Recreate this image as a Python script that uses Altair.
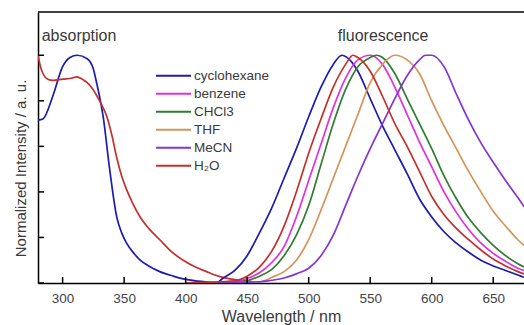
import altair as alt
import pandas as pd

solvents = ["cyclohexane", "benzene", "CHCl3", "THF", "MeCN", "H₂O"]
colors = ["#1c1cb0", "#e030e0", "#2f7d2f", "#d4945a", "#8434d4", "#c4302c"]

# absorption spectra (cyclohexane, H2O)
abs_cyc_wl = [280, 284, 292, 300, 306, 312, 320, 325, 328, 330, 333, 338, 344, 348, 352, 358, 363, 370, 379, 390, 398, 410, 420, 430]
abs_cyc_v = [0.715, 0.72, 0.82, 0.95, 0.99, 1.0, 0.985, 0.94, 0.87, 0.82, 0.73, 0.51, 0.29, 0.22, 0.175, 0.13, 0.10, 0.075, 0.05, 0.03, 0.018, 0.008, 0.003, 0.0]
abs_h2o_wl = [280, 282, 284, 288, 292, 300, 308, 311, 316, 320, 324, 328, 332, 336, 340, 344, 348, 352, 357, 363, 370, 379, 388, 398, 408, 417, 425, 434, 445, 455]
abs_h2o_v = [1.0, 0.95, 0.92, 0.895, 0.89, 0.895, 0.9, 0.905, 0.895, 0.88, 0.855, 0.82, 0.78, 0.73, 0.65, 0.55, 0.47, 0.41, 0.35, 0.29, 0.24, 0.19, 0.14, 0.10, 0.07, 0.05, 0.033, 0.02, 0.012, 0.005]

# fluorescence spectra
fl_cyc_wl = [400, 425, 430, 440, 450, 460, 470, 480, 490, 500, 510, 520, 527, 535, 540, 550, 560, 570, 580, 590, 600, 610, 620, 630, 640, 650, 660, 670, 675]
fl_cyc_v = [0.0, 0.0, 0.02, 0.055, 0.12, 0.22, 0.33, 0.46, 0.59, 0.73, 0.86, 0.96, 1.0, 0.97, 0.93, 0.81, 0.69, 0.585, 0.48, 0.37, 0.29, 0.225, 0.175, 0.135, 0.10, 0.075, 0.055, 0.035, 0.025]
fl_ben_wl = [400, 440, 450, 460, 470, 480, 490, 500, 510, 520, 530, 540, 550, 560, 570, 580, 590, 600, 610, 620, 630, 640, 650, 660, 670, 675]
fl_ben_v = [0.0, 0.005, 0.02, 0.045, 0.09, 0.16, 0.29, 0.45, 0.61, 0.77, 0.90, 0.98, 1.0, 0.96, 0.86, 0.74, 0.62, 0.51, 0.40, 0.31, 0.235, 0.175, 0.13, 0.095, 0.065, 0.055]
fl_chcl3_wl = [400, 440, 450, 460, 470, 480, 490, 500, 510, 520, 530, 540, 550, 555, 560, 570, 580, 590, 600, 610, 620, 630, 640, 650, 660, 670, 675]
fl_chcl3_v = [0.0, 0.003, 0.01, 0.03, 0.06, 0.12, 0.21, 0.34, 0.52, 0.70, 0.85, 0.95, 0.99, 1.0, 0.99, 0.92, 0.81, 0.70, 0.59, 0.47, 0.37, 0.285, 0.22, 0.165, 0.12, 0.085, 0.07]
fl_thf_wl = [400, 460, 470, 480, 490, 500, 510, 520, 530, 540, 550, 560, 570, 580, 590, 600, 610, 620, 630, 640, 650, 660, 670, 675]
fl_thf_v = [0.0, 0.005, 0.025, 0.05, 0.10, 0.19, 0.32, 0.46, 0.60, 0.74, 0.88, 0.96, 1.0, 0.98, 0.92, 0.80, 0.69, 0.59, 0.49, 0.40, 0.315, 0.25, 0.19, 0.165]
fl_mecn_wl = [400, 460, 470, 480, 490, 500, 510, 520, 530, 540, 550, 560, 570, 580, 590, 595, 600, 610, 620, 630, 640, 650, 660, 670, 675]
fl_mecn_v = [0.0, 0.005, 0.012, 0.022, 0.04, 0.065, 0.12, 0.21, 0.34, 0.47, 0.59, 0.70, 0.81, 0.91, 0.98, 1.0, 1.0, 0.95, 0.83, 0.715, 0.615, 0.53, 0.45, 0.375, 0.335]
fl_h2o_wl = [400, 440, 450, 460, 470, 480, 490, 500, 510, 520, 530, 536, 540, 550, 560, 570, 580, 590, 600, 610, 620, 630, 640, 650, 660, 670, 675]
fl_h2o_v = [0.0, 0.01, 0.03, 0.07, 0.14, 0.25, 0.40, 0.57, 0.72, 0.86, 0.96, 1.0, 0.99, 0.93, 0.82, 0.70, 0.60, 0.49, 0.38, 0.30, 0.24, 0.19, 0.145, 0.105, 0.075, 0.05, 0.04]

x_ticks = [300, 350, 400, 450, 500, 550, 600, 650]
y_ticks = [0.0, 0.2, 0.4, 0.6, 0.8, 1.0]

series = [
    ("cyclohexane", "abs", abs_cyc_wl, abs_cyc_v),
    ("H₂O", "abs", abs_h2o_wl, abs_h2o_v),
    ("cyclohexane", "fl", fl_cyc_wl, fl_cyc_v),
    ("benzene", "fl", fl_ben_wl, fl_ben_v),
    ("CHCl3", "fl", fl_chcl3_wl, fl_chcl3_v),
    ("THF", "fl", fl_thf_wl, fl_thf_v),
    ("MeCN", "fl", fl_mecn_wl, fl_mecn_v),
    ("H₂O", "fl", fl_h2o_wl, fl_h2o_v),
]
rows = []
for s, part, wl, v in series:
    for a, b in zip(wl, v):
        rows.append({"solvent": s, "seg": s + "_" + part, "wl": a, "v": b})
df = pd.DataFrame(rows)

FONT = "Liberation Sans"
TXT = "#3a3a3a"
W, H = 486, 271
xscale = alt.Scale(domain=[280, 675], nice=False, zero=False)
yscale = alt.Scale(domain=[0, 1.19], nice=False, zero=False)

lines = alt.Chart(df).mark_line(strokeWidth=1.7, clip=True, interpolate="monotone").encode(
    x=alt.X("wl:Q", scale=xscale, axis=alt.Axis(
        title="Wavelength / nm", values=x_ticks, ticks=False, grid=False,
        domainColor="#000", domainWidth=1.5, labelFontSize=13.5, labelColor="#444",
        labelFont=FONT, labelPadding=8, titleFont=FONT, titleFontSize=16,
        titleFontWeight="normal", titleColor=TXT, titlePadding=4)),
    y=alt.Y("v:Q", scale=yscale, axis=alt.Axis(
        title="Normalized Intensity / a. u.", labels=False, ticks=False, grid=False,
        domainColor="#000", domainWidth=1.5, titleFont=FONT, titleFontSize=15,
        titleFontWeight="normal", titleColor=TXT, titlePadding=10, titleY=156,
        titleAlign="center")),
    color=alt.Color("solvent:N", scale=alt.Scale(domain=solvents, range=colors),
                    legend=alt.Legend(orient="none", legendX=117, legendY=55, title=None,
                                      symbolType="stroke", symbolSize=1225, symbolStrokeWidth=2,
                                      clipHeight=17.7, rowPadding=0, padding=0,
                                      labelFontSize=13.5, labelFont=FONT, labelColor=TXT,
                                      labelOffset=2)),
    detail="seg:N",
    order="wl:Q",
)

xt = alt.Chart(pd.DataFrame({"t": x_ticks})).mark_rule(color="#000", strokeWidth=1.5).encode(
    x=alt.X("t:Q", scale=xscale), y=alt.value(H), y2=alt.value(H - 6))
yt = alt.Chart(pd.DataFrame({"t": y_ticks})).mark_rule(color="#000", strokeWidth=1.5).encode(
    y=alt.Y("t:Q", scale=yscale), x=alt.value(0), x2=alt.value(6))
top = alt.Chart(pd.DataFrame({"a": [0]})).mark_rule(color="#000", strokeWidth=1.5).encode(
    y=alt.value(0), x=alt.value(0), x2=alt.value(W))

labels_df = pd.DataFrame({"txt": ["absorption", "fluorescence"], "wl": [283, 560.5], "v": [1.083, 1.083]})
lab_abs = alt.Chart(labels_df.iloc[[0]]).mark_text(align="left", baseline="middle", fontSize=16,
                                                  font=FONT, color=TXT).encode(
    x=alt.X("wl:Q", scale=xscale), y=alt.Y("v:Q", scale=yscale), text="txt:N")
lab_fl = alt.Chart(labels_df.iloc[[1]]).mark_text(align="center", baseline="middle", fontSize=16,
                                                 font=FONT, color=TXT).encode(
    x=alt.X("wl:Q", scale=xscale), y=alt.Y("v:Q", scale=yscale), text="txt:N")

chart = alt.layer(lines, xt, yt, top, lab_abs, lab_fl).properties(
    width=W, height=H,
    autosize=alt.AutoSizeParams(type="none"),
    padding={"left": 38, "top": 12, "right": 0, "bottom": 42},
    background="white",
).configure_view(stroke=None)

chart.save("out.html", embed_options={"renderer": "svg", "actions": False})
